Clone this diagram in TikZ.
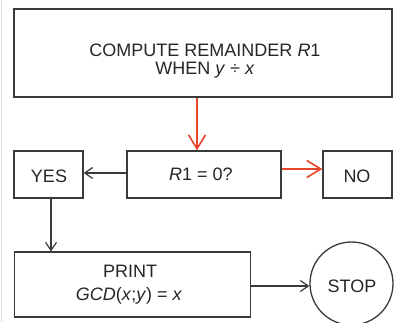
\documentclass[tikz,border=0pt]{standalone}
\usepackage{fontspec}
\setmainfont{Liberation Sans}
\usetikzlibrary{arrows.meta}
\definecolor{ink}{HTML}{3A3A3A}
\definecolor{txt}{HTML}{262626}
\definecolor{flowred}{HTML}{E8432B}
\begin{document}
\begin{tikzpicture}[x=1pt,y=-1pt,
  boxstyle/.style={draw=ink, line width=1.3pt, inner sep=0pt, minimum width=#1},
  lbl/.style={anchor=base, text=txt, font=\fontsize{18}{18}\selectfont, inner sep=0pt},
  blackarrow/.style={draw=ink, line width=1.2pt, -{Straight Barb[length=8pt,width=11pt,line width=1.2pt]}},
  redarrow/.style={draw=flowred, line width=1.6pt, -{Straight Barb[length=14pt,width=17pt,line width=1.6pt]}}]
\useasboundingbox (0,0) rectangle (394,322);
\fill[white] (0,0) rectangle (394,322);
\draw[black!15, line width=1pt] (1.5,0) -- (1.5,322);
% boxes
\node[boxstyle=378pt, minimum height=88pt] (top) at (203,53) {};
\node[boxstyle=69pt, minimum height=47pt] (yes) at (48.5,174.5) {};
\node[boxstyle=154pt, minimum height=47pt] (test) at (204,174.5) {};
\node[boxstyle=69pt, minimum height=47pt] (no) at (357.5,174.5) {};
\node[boxstyle=236pt, minimum height=65pt] (print) at (132.5,284.5) {};
\node[draw=ink, line width=1.3pt, circle, minimum size=83pt, inner sep=0pt] (stop) at (351.5,283.5) {};
% texts
\node[lbl] (t1) at (205,56) {COMPUTE REMAINDER \textit{R}1};
\node[lbl] (t2) at (205,74) {WHEN \textit{y} ÷ \textit{x}};
\node[lbl] (tyes) at (49,182) {YES};
\node[lbl] (ttest) at (201,180) {\textit{R}1 = 0?};
\node[lbl] (tno) at (357,182) {NO};
\node[lbl] (tp1) at (130,277) {PRINT};
\node[lbl] (tp2) at (129,300) {\textit{GCD}(\textit{x};\textit{y}) =\ \textit{x}};
\node[lbl] (tstop) at (352,292) {STOP};
% helper coordinates
\coordinate (ax) at (197,0);
\coordinate (ry) at (0,169);
\coordinate (by) at (0,173);
\coordinate (cx) at (51,0);
\coordinate (py) at (0,286);
% connectors
\draw[redarrow] (top.south -| ax) -- (test.north -| ax);
\draw[redarrow] (test.east |- ry) -- (no.west |- ry);
\draw[blackarrow] (test.west |- by) -- (yes.east |- by);
\draw[blackarrow] (yes.south -| cx) -- (print.north -| cx);
\draw[blackarrow] (print.east |- py) -- (stop.west |- py);
\end{tikzpicture}
\end{document}
